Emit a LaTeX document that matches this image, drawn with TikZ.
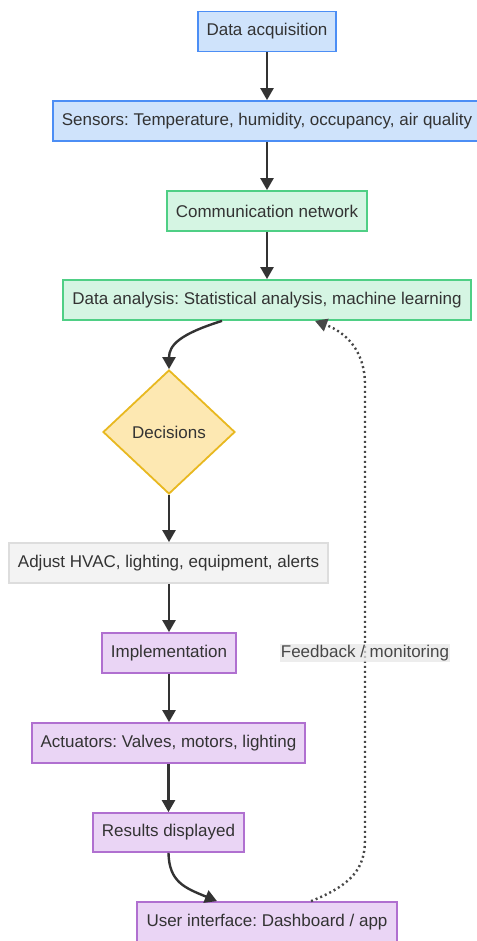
\documentclass[tikz,border=0pt]{standalone}
\usepackage{fontspec}
\setmainfont{Liberation Sans}
\usetikzlibrary{shapes.geometric,arrows.meta}
\frenchspacing
\definecolor{txt}{HTML}{333333}
\definecolor{bfill}{HTML}{CFE3FB}
\definecolor{bline}{HTML}{4C8EF5}
\definecolor{gfill}{HTML}{D5F5E3}
\definecolor{gline}{HTML}{4FCF85}
\definecolor{yfill}{HTML}{FDE8B2}
\definecolor{yline}{HTML}{E8B820}
\definecolor{pfill}{HTML}{EAD5F5}
\definecolor{pline}{HTML}{B070D0}
\definecolor{afill}{HTML}{F3F3F3}
\definecolor{aline}{HTML}{DDDDDD}
\definecolor{lfill}{HTML}{E6E6E6}
\definecolor{edge}{HTML}{333333}
\tikzset{
  base/.style={rectangle, draw, line width=1.8pt, inner sep=0pt, text=txt,
    minimum height=40pt, font=\fontsize{17}{20}\selectfont},
  bluebox/.style={base, fill=bfill, draw=bline},
  greenbox/.style={base, fill=gfill, draw=gline},
  purplebox/.style={base, fill=pfill, draw=pline},
  graybox/.style={base, fill=afill, draw=aline},
  decbox/.style={diamond, draw=yline, fill=yfill, line width=1.8pt, inner sep=0pt,
    text=txt, minimum width=132pt, minimum height=124pt, font=\fontsize{17}{20}\selectfont},
  conn/.style={draw=edge, line width=2.4pt, -{Triangle[length=12pt,width=13pt]}},
  fb/.style={draw=edge!90, line width=2.4pt, dash pattern=on 2pt off 3pt, -{Triangle[length=12pt,width=13pt]}},
  lbl/.style={fill=lfill, fill opacity=0.7, text opacity=1, text=txt!90, inner sep=1pt,
    font=\fontsize{17}{20}\selectfont}
}
\begin{document}
\begin{tikzpicture}[x=1pt,y=-1pt]
\useasboundingbox (0,0) rectangle (476,941);
\node[bluebox, minimum width=138pt] (acq) at (267,31.5) {Data acquisition};
\node[bluebox, minimum width=428pt] (sens) at (267,121) {Sensors: Temperature, humidity, occupancy, air quality};
\node[greenbox, minimum width=200pt] (comm) at (267,211) {Communication network};
\node[greenbox, minimum width=408pt] (ana) at (267,300) {Data analysis: Statistical analysis, machine learning};
\node[decbox] (dec) at (169,432) {Decisions};
\node[graybox, minimum width=319pt] (adj) at (168.5,563) {Adjust HVAC, lighting, equipment, alerts};
\node[purplebox, minimum width=134pt] (impl) at (169,653) {Implementation};
\node[purplebox, minimum width=273pt] (act) at (168.5,743) {Actuators: Valves, motors, lighting};
\node[purplebox, minimum width=151pt, minimum height=39pt] (res) at (168.5,832.5) {Results displayed};
\node[purplebox, minimum width=260pt] (ui) at (267,922) {User interface: Dashboard / app};

\path[conn] (acq.south) -- (sens.north);
\path[conn] (sens.south) -- (comm.north);
\path[conn] (comm.south) -- (ana.north);
\path[conn] ([xshift=-45pt]ana.south) .. controls (180,334) and (169,345) .. (dec.north);
\path[conn] (dec.south) -- (adj.north -| dec.south);
\path[conn] (adj.south -| impl.north) -- (impl.north);
\path[conn] (impl.south) -- (act.north -| impl.south);
\path[conn] (act.south -| res.north) -- (res.north);
\path[conn] (res.south) .. controls (169,882) and (185,888) .. ([xshift=-50pt]ui.north);
\path[fb] ([xshift=44pt]ui.north) .. controls (352,885) and (365,868) .. (365,840)
   -- (365,385) .. controls (365,350) and (345,332) .. ([xshift=48pt]ana.south);
\node[lbl] (fbl) at (365,653) {Feedback / monitoring};
\end{tikzpicture}
\end{document}
